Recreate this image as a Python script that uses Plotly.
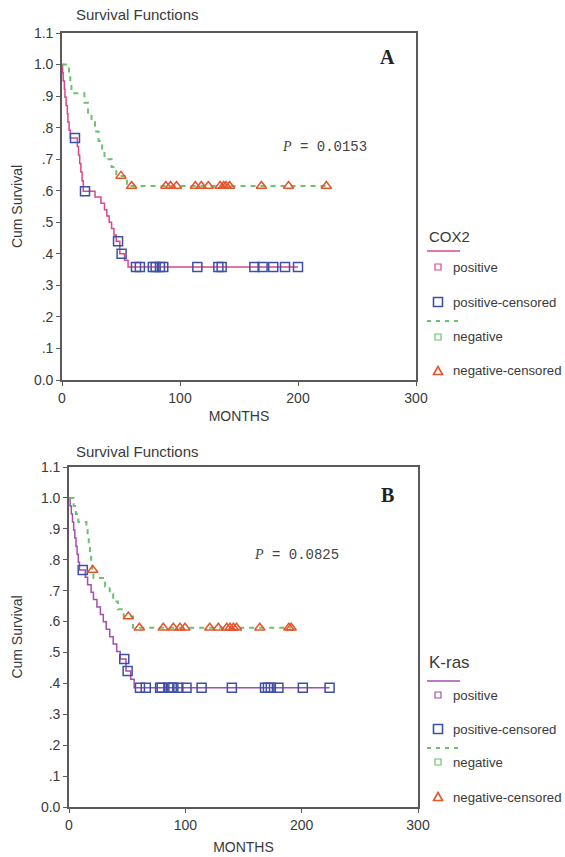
import numpy as np
import plotly.graph_objects as go

# ---------------- data ----------------
months_ticks = [0, 100, 200, 300]
surv_tickvals = [0.0, 0.1, 0.2, 0.3, 0.4, 0.5, 0.6, 0.7, 0.8, 0.9, 1.0, 1.1]
surv_ticktext = ["0.0", ".1", ".2", ".3", ".4", ".5", ".6", ".7", ".8", ".9", "1.0", "1.1"]

# Panel A: COX2
A_pos_time = [0, 0.5, 1, 2, 2.5, 3.5, 4.5, 5, 6, 7, 13, 14, 15, 16, 17, 18, 28, 33, 36, 38, 40, 42, 44, 46, 49, 53, 56]
A_pos_surv = [1.0, .974, .948, .922, .896, .870, .844, .818, .792, .767, .740, .713, .686, .659, .632, .598,
              .58, .56, .54, .52, .50, .48, .46, .44, .40, .38, .358]
A_pos_cens = [11, 19.5, 47.5, 50.5, 62.7, 66, 77, 79.4, 83, 85.8, 114.7, 132.5, 135.3, 163, 170, 179, 189, 200]

A_neg_time = [0, 6, 7, 8, 19, 22, 25, 28, 31, 34, 36, 42, 46, 55]
A_neg_surv = [1.0, .97, .94, .909, .879, .848, .818, .788, .758, .727, .70, .675, .647, .615]
A_neg_cens = [50, 59, 88, 92, 97, 113, 118, 124, 134, 137, 139, 142, 169, 192, 224]

# Panel B: K-ras
B_pos_time = [0, 1, 2, 3, 4, 5, 6, 7, 8, 9, 14, 16, 19, 21, 24, 27, 29.5, 32, 35, 38, 41, 44, 49, 53, 56]
B_pos_surv = [1.0, .974, .948, .922, .896, .870, .844, .818, .792, .767, .743, .719, .695, .671, .647, .623,
              .599, .575, .551, .527, .503, .479, .44, .413, .386]
B_pos_cens = [11.8, 47.5, 50.4, 61, 66, 78.3, 79.7, 85.4, 88.3, 89.7, 94, 101, 114, 140,
              168.5, 171, 173.5, 180, 201, 224]

B_neg_time = [0, 4, 6, 8, 15, 16, 17, 18, 19, 20, 21, 31, 35, 38, 42, 47, 55]
B_neg_surv = [1.0, .974, .948, .922, .896, .870, .844, .818, .792, .767, .741, .713, .69, .665, .64, .616, .58]
B_neg_cens = [20.4, 51, 60.5, 81, 89.7, 95.4, 99.7, 121, 128.4, 135.6, 138.4, 141.3, 144, 164, 189, 191]

p_values = ["0.0153", "0.0825"]
panel_letters = ["A", "B"]
legend_titles = ["COX2", "K-ras"]
legend_labels = ["positive", "positive-censored", "negative", "negative-censored"]

# ---------------- styling ----------------
W, H = 565, 857
PINK = "#d9478c"
PURPLE = "#a34fae"
BLUE = "#3e50a6"
GREEN = "#6cc26c"
ORANGE = "#e8542c"
TXT = "#3a3a3a"
SANS = "Liberation Sans, Arial, sans-serif"


def px(x):
    return x / W


def py(y):
    return 1 - y / H


def step_xy(times, surv, cens):
    x = list(times) + [max(cens)]
    y = list(surv) + [surv[-1]]
    return x, y


def cens_y(times, surv, cens):
    t = np.asarray(times, dtype=float)
    s = np.asarray(surv, dtype=float)
    idx = np.searchsorted(t, np.asarray(cens, dtype=float), side="right") - 1
    return s[idx].tolist()


fig = go.Figure()

panels = [
    dict(pos=(A_pos_time, A_pos_surv, A_pos_cens), neg=(A_neg_time, A_neg_surv, A_neg_cens),
         poscol=PINK, xa="x", ya="y"),
    dict(pos=(B_pos_time, B_pos_surv, B_pos_cens), neg=(B_neg_time, B_neg_surv, B_neg_cens),
         poscol=PURPLE, xa="x2", ya="y2"),
]

for p in panels:
    pt, ps, pc = p["pos"]
    nt, ns, nc = p["neg"]
    x, y = step_xy(pt, ps, pc)
    fig.add_trace(go.Scatter(x=x, y=y, mode="lines", line=dict(color=p["poscol"], width=1.5, shape="hv"),
                             xaxis=p["xa"], yaxis=p["ya"], showlegend=False, hoverinfo="skip"))
    x, y = step_xy(nt, ns, nc)
    fig.add_trace(go.Scatter(x=x, y=y, mode="lines",
                             line=dict(color=GREEN, width=2, shape="hv", dash="5px,5px"),
                             xaxis=p["xa"], yaxis=p["ya"], showlegend=False, hoverinfo="skip"))
    fig.add_trace(go.Scatter(x=pc, y=cens_y(pt, ps, pc), mode="markers",
                             marker=dict(symbol="square-open", size=9, color=BLUE, line=dict(width=1.5, color=BLUE)),
                             xaxis=p["xa"], yaxis=p["ya"], showlegend=False))
    fig.add_trace(go.Scatter(x=nc, y=cens_y(nt, ns, nc), mode="markers",
                             marker=dict(symbol="triangle-up-open", size=9, color=ORANGE,
                                         line=dict(width=1.5, color=ORANGE)),
                             xaxis=p["xa"], yaxis=p["ya"], showlegend=False))

axis_common = dict(showline=True, linecolor="#5a5a5a", linewidth=1.6, mirror=True, ticks="outside",
                   ticklen=4, tickcolor="#5a5a5a", showgrid=False, zeroline=False, automargin=False,
                   tickfont=dict(family=SANS, size=14, color=TXT))

# plot-area pixel boxes: (left, right, top, bottom), y-title standoff, x-title standoff
boxA = (62, 416, 33, 380, 8, 7)
boxB = (69, 418, 467, 807, 15, 11)

for i, box in enumerate([boxA, boxB]):
    l, r, t, b, so, sox = box
    xkey = "xaxis" if i == 0 else "xaxis2"
    ykey = "yaxis" if i == 0 else "yaxis2"
    anchor_x = "y" if i == 0 else "y2"
    anchor_y = "x" if i == 0 else "x2"
    fig.update_layout({
        xkey: dict(axis_common, domain=[px(l), px(r)], range=[0, 300], tickvals=months_ticks,
                   anchor=anchor_x,
                   title=dict(text="MONTHS", font=dict(family=SANS, size=14, color=TXT), standoff=sox)),
        ykey: dict(axis_common, domain=[py(b), py(t)], range=[0, 1.1], tickvals=surv_tickvals,
                   ticktext=surv_ticktext, anchor=anchor_y,
                   title=dict(text="Cum Survival", font=dict(family=SANS, size=14, color=TXT), standoff=so)),
    })

annotations = []
shapes = []

# titles, panel letters, p-values
for i, (ty, lx, ly, p_x, p_y) in enumerate([(15, 387, 57, 280, 147), (451, 387, 495, 252, 555)]):
    annotations.append(dict(text="Survival Functions", x=px(74), y=py(ty), xref="paper", yref="paper",
                            xanchor="left", yanchor="middle", showarrow=False,
                            font=dict(family=SANS, size=15, color=TXT)))
    annotations.append(dict(text="<b>%s</b>" % panel_letters[i], x=px(lx), y=py(ly), xref="paper", yref="paper",
                            xanchor="center", yanchor="middle", showarrow=False,
                            font=dict(family="Liberation Serif, Times New Roman, serif", size=20, color="#222")))
    annotations.append(dict(text='<span style="font-family:Liberation Serif"><i>P</i></span> = ' + p_values[i],
                            x=px(p_x), y=py(p_y), xref="paper", yref="paper",
                            xanchor="left", yanchor="middle", showarrow=False,
                            font=dict(family="Liberation Mono, Courier New, monospace", size=14, color="#444")))

# manual legends
legend_specs = [
    dict(title=legend_titles[0], tsize=15, ty=236, rows=[251, 267, 302, 321, 337, 371], poscol=PINK),
    dict(title=legend_titles[1], tsize=17, ty=662, rows=[681, 695, 729, 748, 762, 797], poscol=PURPLE),
]
LX0, LX1, MX, TX = 427, 460, 438, 451
for spec in legend_specs:
    annotations.append(dict(text=spec["title"], x=px(LX0), y=py(spec["ty"]), xref="paper", yref="paper",
                            xanchor="left", yanchor="middle", showarrow=False,
                            font=dict(family=SANS, size=spec["tsize"], color=TXT)))
    yl1, yp, ypc, yl2, yn, ync = spec["rows"]
    shapes.append(dict(type="line", xref="paper", yref="paper", x0=px(LX0), x1=px(LX1), y0=py(yl1), y1=py(yl1),
                       line=dict(color=spec["poscol"], width=1.5)))
    shapes.append(dict(type="line", xref="paper", yref="paper", x0=px(LX0), x1=px(LX1), y0=py(yl2), y1=py(yl2),
                       line=dict(color=GREEN, width=2, dash="4px,5px")))
    for (yy, col, s, w) in [(yp, spec["poscol"], 3, 1.2), (yn, GREEN, 3, 1.2), (ypc, BLUE, 4.5, 1.6)]:
        shapes.append(dict(type="rect", xref="paper", yref="paper", x0=px(MX - s), x1=px(MX + s),
                           y0=py(yy + s), y1=py(yy - s), line=dict(color=col, width=w)))
    x0, x1, xm = px(MX - 4.5), px(MX + 4.5), px(MX)
    shapes.append(dict(type="path", xref="paper", yref="paper",
                       path="M %f %f L %f %f L %f %f Z" % (x0, py(ync + 3.5), x1, py(ync + 3.5), xm, py(ync - 4.5)),
                       line=dict(color=ORANGE, width=1.6)))
    for lab, yy in zip(legend_labels, [yp, ypc, yn, ync]):
        annotations.append(dict(text=lab, x=px(TX), y=py(yy), xref="paper", yref="paper",
                                xanchor="left", yanchor="middle", showarrow=False,
                                font=dict(family=SANS, size=13.2, color=TXT)))

fig.update_layout(width=W, height=H, margin=dict(l=0, r=0, t=0, b=0, autoexpand=False),
                  paper_bgcolor="white", plot_bgcolor="white", showlegend=False,
                  annotations=annotations, shapes=shapes)

page_fix = (
    "var h=document.documentElement, b=document.body;"
    "h.style.margin='0'; h.style.padding='0'; h.style.overflow='hidden';"
    "b.style.margin='0'; b.style.padding='0'; b.style.overflow='hidden';"
)
fig.write_html("out.html", config={"displayModeBar": False}, post_script=page_fix)
